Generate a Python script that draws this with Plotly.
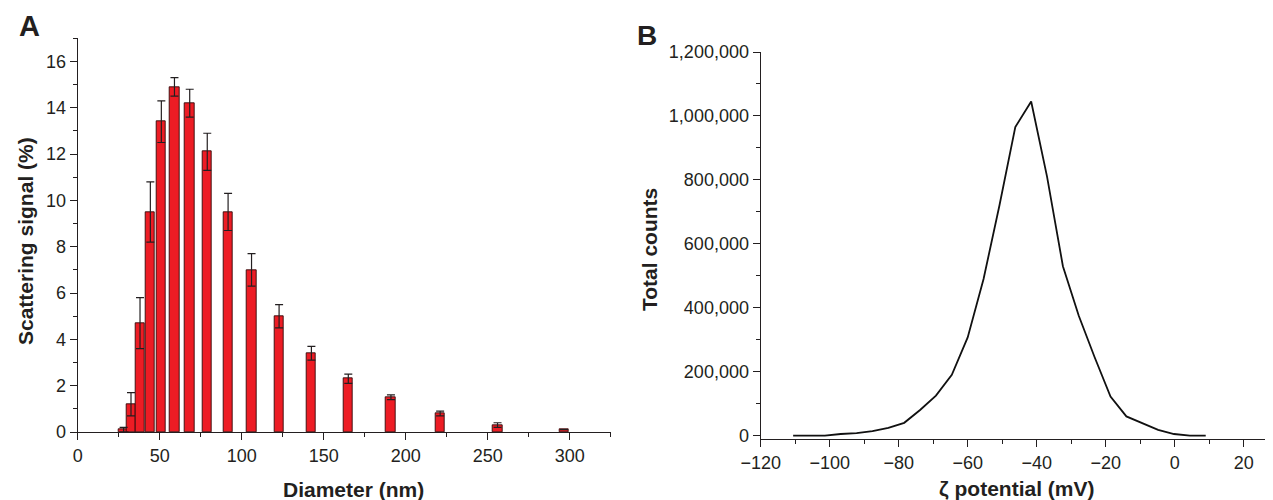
import plotly.graph_objects as go

# Panel A: DLS size distribution
diameter_nm = [28, 32.5, 38, 44.3, 51, 59, 68.3, 79, 91.7, 106, 122.8, 142.5, 165, 191, 221, 256, 296.5]
scattering_pct = [0.1, 1.2, 4.7, 9.5, 13.4, 14.9, 14.2, 12.1, 9.5, 7.0, 5.0, 3.4, 2.3, 1.5, 0.8, 0.3, 0.1]
scattering_err = [0.1, 0.5, 1.1, 1.3, 0.9, 0.4, 0.6, 0.8, 0.8, 0.7, 0.5, 0.3, 0.2, 0.1, 0.1, 0.1, 0.0]

# Panel B: zeta potential distribution
zeta_mV = [-110.6, -106.0, -101.4, -96.8, -92.2, -87.6, -83.0, -78.4, -73.8, -69.2, -64.6, -60.0,
           -55.4, -50.8, -46.2, -41.6, -37.0, -32.4, -27.8, -23.2, -18.6, -14.0, -9.4, -4.8,
           -0.2, 4.4, 9.0]
total_counts = [0, 0, 0, 5000, 8000, 14000, 24000, 40000, 80000, 125000, 190000, 307000,
                490000, 720000, 965000, 1045000, 810000, 530000, 375000, 245000, 122000, 60000,
                38000, 18000, 5000, 0, 0]

INK = "#231f20"
FONT = "Liberation Sans, Arial, Helvetica, sans-serif"

fig = go.Figure()

fig.add_trace(go.Bar(
    x=diameter_nm, y=scattering_pct, width=5.8,
    marker=dict(color="#ed1c24", line=dict(color="rgba(50,10,10,0.9)", width=1)),
    error_y=dict(type="data", array=scattering_err, visible=True, color=INK,
                 thickness=1.2, width=4),
    xaxis="x", yaxis="y", showlegend=False,
))

fig.add_trace(go.Scatter(
    x=zeta_mV, y=total_counts, mode="lines",
    line=dict(color="#111111", width=1.8),
    xaxis="x2", yaxis="y2", showlegend=False,
))

# page body has an 8px margin: the figure starts at (8, 8)
OFF = 8
W, H = 1273 - OFF, 500 - OFF

def px_x(p):
    return (p - OFF) / W

def px_y(p):
    return 1 - (p - OFF) / H

axis_common = dict(
    showline=True, linecolor=INK, linewidth=1.3, ticks="outside", ticklen=7,
    tickwidth=1.2, tickcolor=INK, showgrid=False, zeroline=False, automargin=False,
    tickfont=dict(family=FONT, size=18, color=INK), layer="above traces",
)

fig.update_layout(
    width=W, height=H,
    margin=dict(l=0, r=0, t=0, b=0, pad=0, autoexpand=False),
    paper_bgcolor="white", plot_bgcolor="white",
    bargap=0, showlegend=False,
    xaxis=dict(axis_common, domain=[px_x(77.7), px_x(610.7)], range=[0, 325],
               tick0=0, dtick=50, anchor="y",
               minor=dict(dtick=25, ticklen=4, tickcolor=INK, ticks="outside", tickwidth=1.2)),
    yaxis=dict(axis_common, domain=[px_y(432), px_y(38.3)], range=[0, 17],
               tick0=0, dtick=2, anchor="x",
               minor=dict(dtick=1, ticklen=4, tickcolor=INK, ticks="outside", tickwidth=1.2)),
    xaxis2=dict(axis_common, domain=[px_x(760.7), 1.0], range=[-120, 28.5],
                tick0=0, dtick=20, anchor="y2",
                minor=dict(dtick=10, ticklen=4, tickcolor=INK, ticks="outside", tickwidth=1.2)),
    yaxis2=dict(axis_common, domain=[px_y(438.8), px_y(52)], range=[-10000, 1200000],
                tick0=0, dtick=200000, tickformat=",d", anchor="x2",
                minor=dict(dtick=100000, ticklen=4, tickcolor=INK, ticks="outside", tickwidth=1.2)),
)

ann_font_title = dict(family=FONT, size=21, color=INK)
fig.add_annotation(text="<b>Diameter (nm)</b>", x=px_x(354), y=px_y(489), xref="paper", yref="paper",
                   showarrow=False, font=ann_font_title, xanchor="center", yanchor="middle")
fig.add_annotation(text="<b>Scattering signal (%)</b>", x=px_x(25), y=px_y(241), xref="paper", yref="paper",
                   showarrow=False, font=ann_font_title, textangle=-90, xanchor="center", yanchor="middle")
fig.add_annotation(text="<b>Total counts</b>", x=px_x(649), y=px_y(250), xref="paper", yref="paper",
                   showarrow=False, font=ann_font_title, textangle=-90, xanchor="center", yanchor="middle")
fig.add_annotation(text="<b>ζ potential (mV)</b>", x=px_x(1017), y=px_y(488), xref="paper", yref="paper",
                   showarrow=False, font=ann_font_title, xanchor="center", yanchor="middle")
fig.add_annotation(text="<b>A</b>", x=px_x(29.5), y=px_y(26), xref="paper", yref="paper",
                   showarrow=False, font=dict(family=FONT, size=29, color=INK),
                   xanchor="center", yanchor="middle")
fig.add_annotation(text="<b>B</b>", x=px_x(647), y=px_y(35), xref="paper", yref="paper",
                   showarrow=False, font=dict(family=FONT, size=28, color=INK),
                   xanchor="center", yanchor="middle")

fig.write_html("out.html")
